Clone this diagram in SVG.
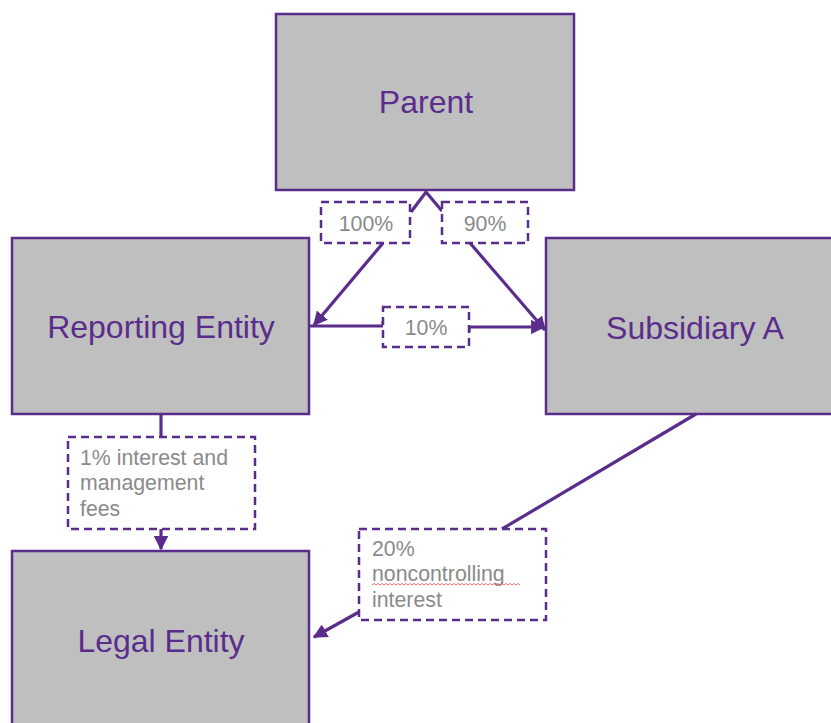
<svg xmlns="http://www.w3.org/2000/svg" width="831" height="723" viewBox="0 0 831 723">
<defs>
<marker id="ah" viewBox="0 0 10 10" refX="9" refY="5" markerWidth="4.5" markerHeight="4.5" orient="auto" markerUnits="strokeWidth">
<path d="M0,0 L10,5 L0,10 z" fill="#5a2d8c"/>
</marker>
<style>
.node{fill:#bfbfbf;stroke:#5a2d8c;stroke-width:2.5}
.nt{font-family:"Liberation Sans",Arial,sans-serif;font-size:32px;fill:#5a2d8c;text-anchor:middle}
.lb{fill:#fff;stroke:#5a2d8c;stroke-width:2.5;stroke-dasharray:8 5}
.lt{font-family:"Liberation Sans",Arial,sans-serif;font-size:21.3px;fill:#8a8a8a}
.c{fill:none;stroke:#5a2d8c;stroke-width:3.2;stroke-linejoin:miter}
</style>
</defs>
<rect width="831" height="723" fill="#fff"/>
<g id="parent"><rect class="node" x="276" y="14" width="298" height="176"/><text class="nt" x="426" y="113">Parent</text></g>
<g id="reporting-entity"><rect class="node" x="12" y="238" width="297" height="176"/><text class="nt" x="161" y="338">Reporting Entity</text></g>
<g id="subsidiary-a"><rect class="node" x="546" y="238" width="290" height="176"/><text class="nt" x="695" y="339">Subsidiary A</text></g>
<g id="legal-entity"><rect class="node" x="12" y="551" width="297" height="180"/><text class="nt" x="161" y="652">Legal Entity</text></g>
<g id="connectors">
<path class="c" d="M411,212 L426,192 L442,211"/>
<path class="c" d="M383,243 L314,325" marker-end="url(#ah)"/>
<path class="c" d="M470,243 L545,330" marker-end="url(#ah)"/>
<path class="c" d="M309,326 L383,326 L383,321"/>
<path class="c" d="M469,332 L469,327 L544,327" marker-end="url(#ah)"/>
<path class="c" d="M161,414 L161,437"/>
<path class="c" d="M161,529 L161,549" marker-end="url(#ah)"/>
<path class="c" d="M696,414 L502,529"/>
<path class="c" d="M359,612 L314,637" marker-end="url(#ah)"/>
</g>
<g id="label-100"><rect class="lb" x="321" y="202" width="89" height="41"/><text class="lt" x="366" y="231" text-anchor="middle">100%</text></g>
<g id="label-90"><rect class="lb" x="442" y="202" width="86" height="41"/><text class="lt" x="485" y="231" text-anchor="middle">90%</text></g>
<g id="label-10"><rect class="lb" x="383" y="307" width="86" height="40"/><text class="lt" x="426" y="335" text-anchor="middle">10%</text></g>
<g id="label-1pct"><rect class="lb" x="68" y="437" width="187" height="92"/><text class="lt" x="80" y="465">1% interest and</text><text class="lt" x="80" y="490">management</text><text class="lt" x="80" y="516">fees</text></g>
<g id="label-20pct"><rect class="lb" x="359" y="529" width="187" height="91"/><text class="lt" x="372" y="556">20%</text><text class="lt" x="372" y="581">noncontrolling</text><text class="lt" x="372" y="607">interest</text>
<path d="M372,585 l2,-1.5 l2,1.5 l2,-1.5 l2,1.5 l2,-1.5 l2,1.5 l2,-1.5 l2,1.5 l2,-1.5 l2,1.5 l2,-1.5 l2,1.5 l2,-1.5 l2,1.5 l2,-1.5 l2,1.5 l2,-1.5 l2,1.5 l2,-1.5 l2,1.5 l2,-1.5 l2,1.5 l2,-1.5 l2,1.5 l2,-1.5 l2,1.5 l2,-1.5 l2,1.5 l2,-1.5 l2,1.5 l2,-1.5 l2,1.5 l2,-1.5 l2,1.5 l2,-1.5 l2,1.5 l2,-1.5 l2,1.5 l2,-1.5 l2,1.5 l2,-1.5 l2,1.5 l2,-1.5 l2,1.5 l2,-1.5 l2,1.5 l2,-1.5 l2,1.5 l2,-1.5 l2,1.5 l2,-1.5 l2,1.5 l2,-1.5 l2,1.5 l2,-1.5 l2,1.5 l2,-1.5 l2,1.5 l2,-1.5 l2,1.5 l2,-1.5 l2,1.5 l2,-1.5 l2,1.5 l2,-1.5 l2,1.5 l2,-1.5 l2,1.5 l2,-1.5 l2,1.5 l2,-1.5 l2,1.5 l2,-1.5 l2,1.5" fill="none" stroke="#e05050" stroke-width="0.8"/>
</g>
</svg>
